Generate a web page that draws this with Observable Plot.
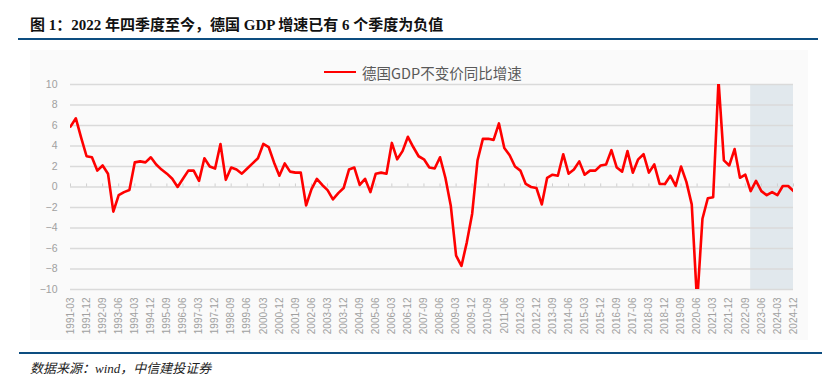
<!DOCTYPE html>
<html>
<head>
<meta charset="utf-8">
<script src="https://cdn.jsdelivr.net/npm/d3@7"></script>
<script src="https://cdn.jsdelivr.net/npm/@observablehq/plot@0.6"></script>
<style>
  html, body { margin: 0; padding: 0; background: #fff; }
  #wrap { position: relative; width: 836px; height: 390px; overflow: hidden; font-family: "Liberation Sans", Arial, "Noto Sans CJK SC", sans-serif; }
  #panel { position: absolute; left: 30px; top: 50px; width: 778px; height: 290px; background: #fafafa; }
  #title { position: absolute; left: 30px; top: 16px; font-family: "Liberation Serif", "Times New Roman", "Noto Sans CJK SC", serif; font-weight: bold; font-size: 15px; line-height: 18px; color: #111; white-space: nowrap; }
  .rule { position: absolute; height: 2px; background: #0d4d80; }
  #source { position: absolute; left: 30px; top: 360px; font-family: "Liberation Serif", "Noto Sans CJK SC", serif; font-style: italic; font-size: 13px; line-height: 17px; color: #222; white-space: nowrap; }
  #legend { position: absolute; left: 324px; top: 62px; height: 20px; display: flex; align-items: center; white-space: nowrap; }
  #legend .sw { width: 32px; height: 2.6px; background: #ff0000; margin-right: 6px; }
  #legend .lb { font-family: "Noto Sans CJK SC", "Liberation Sans", sans-serif; font-size: 14.5px; color: #595959; }
  #chart { position: absolute; left: 0; top: 0; }
</style>
</head>
<body>
<div id="wrap">
  <div id="panel"></div>
  <div id="title">图 1：2022 年四季度至今，德国 GDP 增速已有 6 个季度为负值</div>
  <div class="rule" style="left:18px; top:38px; width:800px;"></div>
  <div id="chart"></div>
  <div id="legend"><div class="sw"></div><div class="lb">德国GDP不变价同比增速</div></div>
  <div class="rule" style="left:19px; top:352px; width:803px;"></div>
  <div id="source">数据来源：wind，中信建投证券</div>
</div>
<script>
// Quarters 1991-03 .. 2024-12
const years = d3.range(1991, 2025);
const quarterMonths = ["03", "06", "09", "12"];
const quarters = years.flatMap(y => quarterMonths.map(m => `${y}-${m}`));

// 德国GDP不变价同比增速 (%)
const gdpYoY = [
  5.9, 6.7, 4.8, 3.0, 2.9, 1.6, 2.1, 1.3,
  -2.4, -0.8, -0.5, -0.3, 2.4, 2.5, 2.4, 2.9,
  2.2, 1.7, 1.3, 0.8, 0.0, 0.8, 1.6, 1.6,
  0.6, 2.8, 2.0, 1.8, 4.2, 0.7, 1.9, 1.7,
  1.3, 1.8, 2.3, 2.8, 4.2, 3.9, 2.4, 1.1,
  2.3, 1.5, 1.4, 1.4, -1.8, -0.2, 0.8, 0.2,
  -0.3, -1.2, -0.6, -0.1, 1.7, 1.9, 0.2, 0.8,
  -0.5, 1.3, 1.4, 1.3, 4.3, 2.7, 3.5, 4.9,
  3.9, 3.0, 2.7, 1.9, 1.8, 2.9, 0.9, -1.8,
  -6.7, -7.7, -5.4, -2.6, 2.6, 4.7, 4.7, 4.6,
  6.2, 3.8, 3.1, 2.0, 1.6, 0.3, 0.0, -0.1,
  -1.7, 0.9, 1.2, 1.1, 3.2, 1.3, 1.7, 2.5,
  1.2, 1.6, 1.6, 2.1, 2.2, 3.6, 1.9, 1.5,
  3.5, 1.4, 2.7, 3.2, 1.4, 2.2, 0.3, 0.3,
  1.1, 0.1, 2.0, 0.5, -1.7, -11.3, -3.1, -1.1,
  -1.0, 10.4, 2.6, 2.1, 3.7, 0.9, 1.2, -0.4,
  0.6, -0.4, -0.8, -0.5, -0.8, 0.1, 0.1, -0.4
];

// Axis ticks
const yTicks = [-10, -8, -6, -4, -2, 0, 2, 4, 6, 8, 10];
const xTickLabels = quarters.filter((q, i) => i % 3 === 0);
const xTickIdx = xTickLabels.map(q => quarters.indexOf(q));

// Shaded period
const shadeStart = "2022-12";
const shadeEnd = "2024-12";

const data = gdpYoY.map((v, i) => ({i, q: quarters[i], v}));
const shade = [{x1: quarters.indexOf(shadeStart), x2: quarters.indexOf(shadeEnd), y1: yTicks[0], y2: yTicks[yTicks.length - 1]}];

const chart = Plot.plot({
  width: 836,
  height: 390,
  marginLeft: 70,
  marginRight: 43,
  marginTop: 84,
  marginBottom: 101,
  style: {background: "transparent", fontFamily: "'Liberation Sans', Arial, sans-serif"},
  x: {domain: [0, quarters.length - 1]},
  y: {domain: [yTicks[0], yTicks[yTicks.length - 1]]},
  marks: [
    Plot.rect(shade, {x1: "x1", x2: "x2", y1: "y1", y2: "y2", fill: "#e1e8ed"}),
    Plot.ruleY(yTicks, {stroke: "#dadada", strokeWidth: 1.3}),
    Plot.ruleX(xTickIdx, {x: d => d, y1: () => 0, y2: () => 0.3, stroke: "#d0d0d0", strokeWidth: 1}),
    Plot.line(data, {x: "i", y: "v", stroke: "#ff0000", strokeWidth: 2.6, clip: true, strokeLinejoin: "round"}),
    Plot.axisY({ticks: yTicks, tickSize: 0, tickPadding: 13, fill: "#a0a0a0", fontSize: 10.5, label: null}),
    Plot.axisX({ticks: xTickIdx, tickFormat: i => quarters[i], tickRotate: -90, tickSize: 0, tickPadding: 8, fill: "#a0a0a0", fontSize: 10, label: null})
  ]
});
document.getElementById("chart").appendChild(chart);
</script>
</body>
</html>
